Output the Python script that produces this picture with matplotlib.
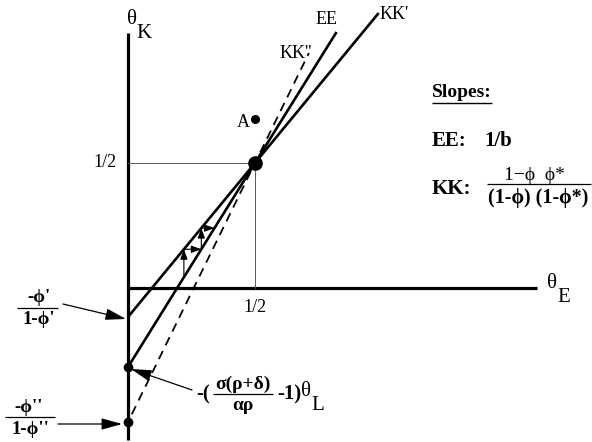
import matplotlib
matplotlib.use("Agg")
import matplotlib.pyplot as plt

# Steady state and schedule parameters (theta units)
theta_star = 0.5
curve_names = ["KK'", "EE", "KK''"]
intercepts = [-0.116, -0.316, -0.536]   # vertical-axis intercepts
top_heights = [1.10, 1.024, 0.94]       # where each schedule stops
point_A = (0.5, 0.676)
cobweb_start = 0.22
cobweb_steps = 2
half_label = "1/2"

# canvas layout in pixels
W, H = 592, 442
OX, OY = 128, 288
SX, SY = 254, 250

SERIF = ["Liberation Serif", "DejaVu Serif"]


def P(x, y):
    """pixel position -> axes data coordinates"""
    return ((x - OX) / SX, (OY - y) / SY)


def txt(x, y, s, size=13, weight="normal", ha="center", va="center", **kw):
    ax.text(*P(x, y), s, fontsize=size, fontweight=weight, ha=ha, va=va,
            family=SERIF, **kw)


def hline(x0, x1, y, lw=0.9):
    a, b = P(x0, y), P(x1, y)
    ax.plot([a[0], b[0]], [a[1], b[1]], color="black", lw=lw,
            solid_capstyle="butt")


def arrow(x0, y0, x1, y1, lw=0.9, ms=14):
    ax.annotate("", xy=P(x1, y1), xytext=P(x0, y0),
                arrowprops=dict(arrowstyle="-|>,head_length=0.9,head_width=0.25",
                                lw=lw, color="black", mutation_scale=ms,
                                shrinkA=0, shrinkB=0))


fig = plt.figure(figsize=(W / 100, H / 100), dpi=100)
ax = fig.add_axes([0, 0, 1, 1])
ax.set_xlim(-OX / SX, (W - OX) / SX)
ax.set_ylim((OY - H) / SY, OY / SY)
ax.axis("off")

# axes of the diagram
ax.plot([0, 0], [P(0, 440)[1], P(0, 33)[1]], color="black", lw=2.3,
        solid_capstyle="butt")
ax.plot([0, P(537, 0)[0]], [0, 0], color="black", lw=2.3,
        solid_capstyle="butt")

# guide lines to the steady state
ax.plot([0, theta_star], [theta_star, theta_star], color="0.35", lw=0.7)
ax.plot([theta_star, theta_star], [0, theta_star], color="0.35", lw=0.7)


def line_y(i, x):
    b = intercepts[i]
    return b + (theta_star - b) / theta_star * x


def line_x(i, y):
    b = intercepts[i]
    return (y - b) * theta_star / (theta_star - b)


# schedules
for i, name in enumerate(curve_names):
    x_end = line_x(i, top_heights[i])
    if name == "KK''":
        x0 = 0.015
        ax.plot([x0, x_end], [line_y(i, x0), top_heights[i]], color="black",
                lw=1.3, linestyle=(0, (5, 3.5)))
    else:
        ax.plot([0, x_end], [intercepts[i], top_heights[i]], color="black",
                lw=1.9, solid_capstyle="butt")

# intercept dots
ax.plot([0, 0], [intercepts[1], intercepts[2]], "o", color="black", ms=6)
# steady state and point A
ax.plot([theta_star], [theta_star], "o", color="black", ms=9.5)
ax.plot([point_A[0]], [point_A[1]], "o", color="black", ms=5.5)

# adjustment path between EE and KK'
x = cobweb_start
for _ in range(cobweb_steps):
    y_lo, y_hi = line_y(1, x), line_y(0, x)
    ax.annotate("", xy=(x, y_hi), xytext=(x, y_lo),
                arrowprops=dict(arrowstyle="-|>,head_length=0.6,head_width=0.22",
                                lw=0.8, color="black", mutation_scale=10,
                                shrinkA=0, shrinkB=0))
    x_next = line_x(1, y_hi)
    ax.annotate("", xy=(x_next, y_hi), xytext=(x, y_hi),
                arrowprops=dict(arrowstyle="-|>,head_length=0.6,head_width=0.22",
                                lw=0.8, color="black", mutation_scale=10,
                                shrinkA=0, shrinkB=0))
    x = x_next

# axis labels
txt(132, 20, "θ", size=15)
txt(144, 34, "K", size=15)
txt(552, 283, "θ", size=15)
txt(564, 298, "E", size=15)
txt(105, 163, half_label, size=13)
txt(255, 307, half_label, size=13)

# curve labels
txt(327, 20, "EE", size=13)
txt(394, 15, "KK'", size=13)
txt(296, 54, "KK''", size=13)
txt(243, 123, "A", size=13)

# slope legend
txt(432, 93, "Slopes:", size=14, weight="bold", ha="left")
hline(432, 492, 103, lw=1.0)
txt(432, 141, "EE:", size=15, weight="bold", ha="left")
txt(484, 141, "1/b", size=15, weight="bold", ha="left")
txt(432, 189, "KK:", size=15, weight="bold", ha="left")
txt(534, 176, "1−ϕ  ϕ*", size=14)
hline(487, 591, 184, lw=0.9)
txt(538, 198, "(1-ϕ) (1-ϕ*)", size=14.5, weight="bold")

# intercept annotations
txt(39, 298, "-ϕ'", size=13.5, weight="bold")
hline(17, 58, 308)
txt(39, 320, "1-ϕ'", size=13.5, weight="bold")
arrow(63, 304, 126, 319)

txt(29, 408, "-ϕ''", size=13.5, weight="bold")
hline(5, 55, 417)
txt(30, 430, "1-ϕ''", size=13.5, weight="bold")
arrow(58, 424, 122, 424)

txt(203, 394, "-(", size=15, weight="bold")
txt(243, 384, "σ(ρ+δ)", size=14, weight="bold")
hline(213, 273, 394)
txt(243, 406, "αρ", size=14, weight="bold")
txt(289, 394, "-1)", size=15, weight="bold")
txt(306, 392, "θ", size=15)
txt(318, 406, "L", size=15)
arrow(192, 390, 131, 369)

fig.savefig("out.png", dpi=100)
